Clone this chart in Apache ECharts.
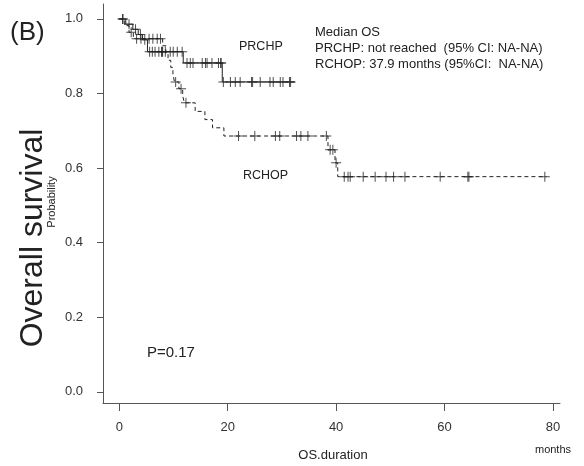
<!DOCTYPE html>
<html>
<head>
<meta charset="utf-8">
<title>Overall survival (B)</title>
<script src="https://cdn.jsdelivr.net/npm/echarts@6/dist/echarts.min.js"></script>
<style>
  html, body { margin: 0; padding: 0; background: #fff; }
  #chart { width: 584px; height: 466px; }
</style>
</head>
<body>
<div id="chart"></div>
<script>
// Kaplan-Meier steps: event time (months) and survival after it
const prchpEventTimes = [1.2, 2.5, 3.5, 4.3, 5.2, 11.8, 19.0]
const prchpSurvival = [0.986, 0.972, 0.958, 0.944, 0.912, 0.882, 0.831]
const prchpEnd = 32.4
const prchpCensorTimes = [0.7, 1.8, 3.0, 3.9, 4.7, 5.6, 6.1, 6.6, 7.3, 7.8, 7.9, 8.0, 8.5, 9.4, 9.95, 10.7, 11.6,
  12.5, 13.1, 13.6, 15.3, 15.9, 16.2, 17.1, 18.3, 18.7, 18.8,
  19.2, 20.5, 21.4, 22.3, 24.4, 24.6, 26.0, 27.8, 28.4, 29.7, 30.2, 31.4, 31.6]

const rchopEventTimes = [1.0, 1.8, 2.6, 8.0, 8.6, 9.0, 9.5, 9.9, 10.2, 11.0, 11.7, 12.0, 14.0, 15.8, 17.2, 19.3, 38.5, 39.8, 40.3]
const rchopSurvival = [0.982, 0.964, 0.947, 0.928, 0.909, 0.889, 0.87, 0.851, 0.831, 0.813, 0.794, 0.775, 0.752, 0.73, 0.708, 0.686, 0.649, 0.614, 0.577]
const rchopEnd = 78.8
const rchopCensorTimes = [0.6, 2.2, 3.2, 4.0, 5.5, 6.2, 7.0, 7.6, 10.4, 11.4, 12.3,
  22.0, 25.0, 28.8, 29.6, 32.7, 33.5, 34.8, 38.2, 38.9, 39.4, 40.0,
  41.5, 42.2, 42.6, 45.0, 47.2, 49.2, 50.6, 52.7, 59.2, 64.3, 64.5, 78.5]

const xTicks = [0, 20, 40, 60, 80]
const yTicks = [0, 0.2, 0.4, 0.6, 0.8, 1.0]

const ink = '#222'
const font = '"Liberation Sans", Arial, sans-serif'
// "+" censor mark as a thin filled cross
const plus = 'path://M4.5,0H5.5V4.5H10V5.5H5.5V10H4.5V5.5H0V4.5H4.5Z'

function stepData(times, surv, end) {
  const pts = [[0, 1]]
  times.forEach((t, i) => pts.push([t, surv[i]]))
  pts.push([end, surv[surv.length - 1]])
  return pts
}

// survival value at time t (right-continuous step)
function survAt(times, surv, t) {
  let s = 1
  times.forEach((et, i) => { if (et <= t) s = surv[i] })
  return s
}

function censorData(censor, times, surv) {
  return censor.map(t => [t, survAt(times, surv, t)])
}

function text(x, y, str, size, extra, rotation) {
  return {
    type: 'text',
    x: x,
    y: y,
    rotation: rotation || 0,
    style: Object.assign({
      text: str,
      fill: '#222',
      font: `${size}px ${font}`,
      textAlign: 'left',
      textVerticalAlign: 'middle',
    }, extra || {}),
  }
}

const chart = echarts.init(document.getElementById('chart'), null, { renderer: 'canvas' })

chart.setOption({
  animation: false,
  backgroundColor: '#fff',
  grid: { left: 103, right: 24, top: 4, bottom: 63 },
  xAxis: {
    type: 'value',
    min: -3,
    max: 81.3,
    axisLine: { show: true, onZero: false, lineStyle: { color: '#555', width: 1 } },
    axisTick: { show: true, length: 8, customValues: xTicks, lineStyle: { color: '#555' } },
    axisLabel: { customValues: xTicks, margin: 18, color: '#333', fontSize: 13, fontFamily: font },
    splitLine: { show: false },
  },
  yAxis: {
    type: 'value',
    min: -0.03,
    max: 1.04,
    axisLine: { show: true, onZero: false, lineStyle: { color: '#555', width: 1 } },
    axisTick: { show: true, length: 6, customValues: yTicks, lineStyle: { color: '#555' } },
    axisLabel: {
      customValues: yTicks,
      margin: 20,
      color: '#333',
      fontSize: 13,
      fontFamily: font,
      formatter: v => v.toFixed(1),
    },
    splitLine: { show: false },
  },
  series: [
    {
      name: 'PRCHP',
      type: 'line',
      step: 'end',
      showSymbol: false,
      data: stepData(prchpEventTimes, prchpSurvival, prchpEnd),
      lineStyle: { color: ink, width: 1 },
    },
    {
      name: 'RCHOP',
      type: 'line',
      step: 'end',
      showSymbol: false,
      data: stepData(rchopEventTimes, rchopSurvival, rchopEnd),
      lineStyle: { color: ink, width: 1, type: [4, 3] },
    },
    {
      name: 'PRCHP censored',
      type: 'scatter',
      symbol: plus,
      symbolSize: 10,
      data: censorData(prchpCensorTimes, prchpEventTimes, prchpSurvival),
      itemStyle: { color: ink },
    },
    {
      name: 'RCHOP censored',
      type: 'scatter',
      symbol: plus,
      symbolSize: 10,
      data: censorData(rchopCensorTimes, rchopEventTimes, rchopSurvival),
      itemStyle: { color: ink },
    },
  ],
  graphic: [
    text(10, 33, '(B)', 26),
    text(33, 238, 'Overall survival', 32, { textAlign: 'center' }, Math.PI / 2),
    text(52, 202, 'Probability', 11, { textAlign: 'center' }, Math.PI / 2),
    text(239, 47, 'PRCHP', 12.5),
    text(243, 176, 'RCHOP', 12.5),
    text(315, 32, 'Median OS', 13),
    text(315, 48, 'PRCHP: not reached  (95% CI: NA-NA)', 13),
    text(315, 64, 'RCHOP: 37.9 months (95%CI:  NA-NA)', 13),
    text(147, 353, 'P=0.17', 15),
    text(333, 455, 'OS.duration', 13, { textAlign: 'center' }),
    text(553, 450, 'months', 11, { textAlign: 'center' }),
  ],
})
</script>
</body>
</html>
